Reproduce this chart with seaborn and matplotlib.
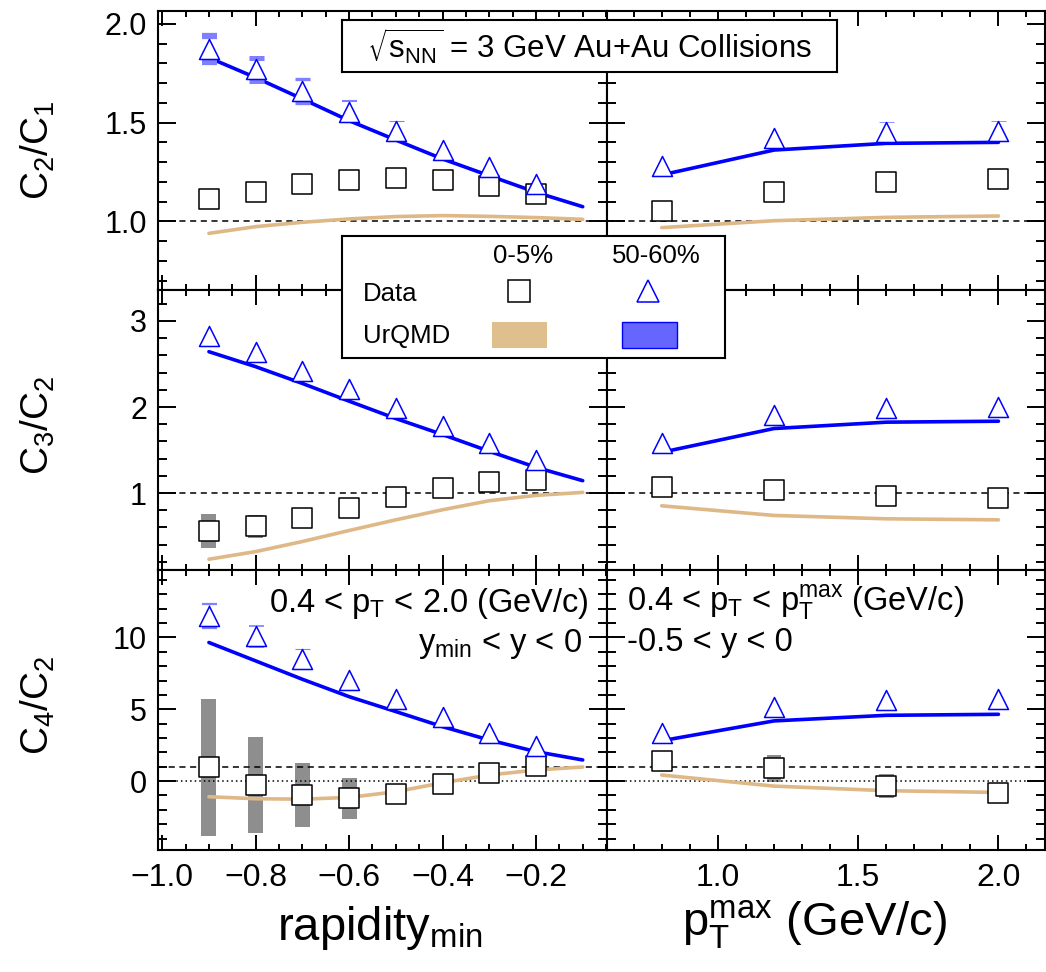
import numpy as np
import matplotlib
matplotlib.use("Agg")
import matplotlib.pyplot as plt
import seaborn as sns
from matplotlib.ticker import MultipleLocator, FormatStrFormatter

# ---- x positions ----
y_min = [-0.9, -0.8, -0.7, -0.6, -0.5, -0.4, -0.3, -0.2]
y_model = [-0.9, -0.8, -0.7, -0.6, -0.5, -0.4, -0.3, -0.2, -0.1]
pt_max = [0.8, 1.2, 1.6, 2.0]

# ---- C2/C1 ----
c21_y_cen = [1.111, 1.150, 1.188, 1.209, 1.218, 1.208, 1.179, 1.140]
c21_y_per = [1.872, 1.770, 1.660, 1.556, 1.456, 1.363, 1.275, 1.188]
c21_y_per_err = [0.065, 0.058, 0.06, 0.055, 0.05, 0.0, 0.0, 0.0]
c21_y_per_cap = [4.5, 3.6, 2.4, 1.5, 0.8, 0.0, 0.0, 0.0]
urqmd_c21_y_cen = [0.939, 0.973, 0.995, 1.012, 1.024, 1.029, 1.025, 1.019, 1.010]
urqmd_c21_y_per = [1.829, 1.728, 1.620, 1.510, 1.412, 1.316, 1.231, 1.147, 1.074]
c21_pt_cen = [1.051, 1.147, 1.198, 1.216]
c21_pt_per = [1.282, 1.421, 1.451, 1.458]
c21_pt_per_err = [0.0, 0.0, 0.05, 0.05]
c21_pt_per_cap = [0.0, 0.0, 0.6, 0.6]
urqmd_c21_pt_cen = [0.968, 1.003, 1.020, 1.027]
urqmd_c21_pt_per = [1.235, 1.361, 1.395, 1.400]

# ---- C3/C2 ----
c32_y_cen = [0.561, 0.615, 0.709, 0.825, 0.949, 1.058, 1.124, 1.152]
c32_y_cen_sys = [0.20, 0.135, 0.05, 0.03, 0.0, 0.0, 0.0, 0.0]
c32_y_per = [2.830, 2.639, 2.422, 2.208, 1.991, 1.785, 1.579, 1.385]
urqmd_c32_y_cen = [0.231, 0.320, 0.437, 0.565, 0.689, 0.806, 0.911, 0.973, 1.008]
urqmd_c32_y_per = [2.643, 2.469, 2.274, 2.068, 1.866, 1.680, 1.486, 1.299, 1.144]
c32_pt_cen = [1.066, 1.035, 0.965, 0.946]
c32_pt_per = [1.587, 1.905, 1.983, 1.995]
urqmd_c32_pt_cen = [0.852, 0.740, 0.701, 0.689]
urqmd_c32_pt_per = [1.474, 1.750, 1.824, 1.835]

# ---- C4/C2 ----
c42_y_cen = [0.95, -0.26, -0.98, -1.21, -0.88, -0.19, 0.53, 1.07]
c42_y_cen_sys = [4.77, 3.35, 2.23, 1.40, 0.6, 0.0, 0.0, 0.0]
c42_y_per = [11.49, 10.09, 8.51, 7.07, 5.70, 4.49, 3.37, 2.47]
c42_y_per_err = [0.85, 0.72, 0.68, 0.0, 0.0, 0.0, 0.0, 0.0]
c42_y_per_cap = [1.6, 1.2, 0.8, 0.0, 0.0, 0.0, 0.0, 0.0]
urqmd_c42_y_cen = [-1.09, -1.23, -1.26, -1.14, -0.74, -0.12, 0.42, 0.77, 0.98]
urqmd_c42_y_per = [9.65, 8.37, 7.09, 5.88, 4.84, 3.79, 2.86, 2.05, 1.47]
c42_pt_cen = [1.42, 0.88, -0.36, -0.84]
c42_pt_cen_sys = [0.3, 0.93, 0.85, 0.45]
c42_pt_per = [3.37, 5.16, 5.63, 5.70]
urqmd_c42_pt_cen = [0.42, -0.35, -0.67, -0.79]
urqmd_c42_pt_per = [2.81, 4.19, 4.58, 4.65]

ROW_LABELS = [r"C$_{2}$/C$_{1}$", r"C$_{3}$/C$_{2}$", r"C$_{4}$/C$_{2}$"]

BLUE = "#0000ff"
TAN = "#deb887"
CAP_BLUE = "#7f7fff"
GRAY = "#7a7a7a"

sns.set_theme(style="ticks")
plt.rcParams["font.family"] = ["Liberation Sans", "DejaVu Sans"]
plt.rcParams["mathtext.default"] = "regular"
plt.rcParams["axes.linewidth"] = 1.5
plt.rcParams["text.color"] = "black"
plt.rcParams["xtick.labelcolor"] = "black"
plt.rcParams["ytick.labelcolor"] = "black"

fig = plt.figure(figsize=(10.46, 9.72), dpi=100)

W, H = 1046.0, 972.0
col_px = [(158, 607), (607, 1045)]
row_px = [(10.7, 290), (290, 570), (570, 850)]
xlims = [(-1.009, -0.048), (0.605, 2.166)]
ylims = [(0.652, 2.067), (0.106, 3.36), (-4.8, 14.7)]
ymaj = [0.5, 1, 5]
ymin_loc = [0.1, 0.2, 1]

# panel table built from the arrays above
panels = [
    [dict(x=y_min, xm=y_model, cen=c21_y_cen, per=c21_y_per, per_err=c21_y_per_err,
          per_cap=c21_y_per_cap, m_cen=urqmd_c21_y_cen, m_per=urqmd_c21_y_per),
     dict(x=pt_max, xm=pt_max, cen=c21_pt_cen, per=c21_pt_per, per_err=c21_pt_per_err,
          per_cap=c21_pt_per_cap, m_cen=urqmd_c21_pt_cen, m_per=urqmd_c21_pt_per)],
    [dict(x=y_min, xm=y_model, cen=c32_y_cen, cen_sys=c32_y_cen_sys, per=c32_y_per,
          m_cen=urqmd_c32_y_cen, m_per=urqmd_c32_y_per),
     dict(x=pt_max, xm=pt_max, cen=c32_pt_cen, per=c32_pt_per,
          m_cen=urqmd_c32_pt_cen, m_per=urqmd_c32_pt_per)],
    [dict(x=y_min, xm=y_model, cen=c42_y_cen, cen_sys=c42_y_cen_sys, per=c42_y_per,
          per_err=c42_y_per_err, per_cap=c42_y_per_cap,
          m_cen=urqmd_c42_y_cen, m_per=urqmd_c42_y_per),
     dict(x=pt_max, xm=pt_max, cen=c42_pt_cen, cen_sys=c42_pt_cen_sys, per=c42_pt_per,
          m_cen=urqmd_c42_pt_cen, m_per=urqmd_c42_pt_per)],
]

ms = 13.7
box_w = [0.032, 0.053]

for r in range(3):
    for c in range(2):
        x0, x1 = col_px[c]
        y0, y1 = row_px[r]
        ax = fig.add_axes([x0 / W, 1 - y1 / H, (x1 - x0) / W, (y1 - y0) / H])
        p = panels[r][c]

        if "cen_sys" in p:
            sys_arr = np.array(p["cen_sys"])
            ax.bar(p["x"], 2 * sys_arr, bottom=np.array(p["cen"]) - sys_arr,
                   width=box_w[c], color=GRAY, alpha=0.85, zorder=1, linewidth=0)

        ax.axhline(1, color="black", ls=(0, (4, 3)), lw=1.1, zorder=1.5)
        if r == 2:
            ax.axhline(0, color="black", ls=(0, (1, 2)), lw=1.1, zorder=1.5)

        sns.lineplot(x=p["xm"], y=p["m_cen"], ax=ax, color=TAN, lw=2.6, zorder=2)
        sns.lineplot(x=p["xm"], y=p["m_per"], ax=ax, color=BLUE, lw=2.6, zorder=3)

        if "per_err" in p:
            for xi, yi, ei, ci in zip(p["x"], p["per"], p["per_err"], p["per_cap"]):
                if ei > 0:
                    ax.errorbar(xi, yi, yerr=ei, fmt="none", ecolor=CAP_BLUE,
                                elinewidth=1.0, capsize=5.4, capthick=ci, zorder=3.5)

        sns.scatterplot(x=p["x"], y=p["cen"], ax=ax, marker="s", s=ms ** 2,
                        facecolor="white", edgecolor="black", linewidth=1.1,
                        zorder=5, legend=False)
        sns.scatterplot(x=p["x"], y=p["per"], ax=ax, marker="^", s=(ms * 1.05) ** 2,
                        facecolor="white", edgecolor=BLUE, linewidth=1.1,
                        zorder=5, legend=False)

        ax.set_xlim(*xlims[c])
        ax.set_ylim(*ylims[r])
        ax.xaxis.set_major_locator(MultipleLocator(0.2 if c == 0 else 0.5))
        ax.xaxis.set_minor_locator(MultipleLocator(0.05 if c == 0 else 0.1))
        ax.yaxis.set_major_locator(MultipleLocator(ymaj[r]))
        ax.yaxis.set_minor_locator(MultipleLocator(ymin_loc[r]))
        if r == 0:
            ax.yaxis.set_major_formatter(FormatStrFormatter("%.1f"))
        ax.tick_params(which="both", direction="in", top=True, right=True,
                       color="black", width=1.4)
        ax.tick_params(axis="y", which="major", length=13)
        ax.tick_params(axis="y", which="minor", length=6.5)
        ax.tick_params(axis="x", which="major", length=11)
        ax.tick_params(axis="x", which="minor", length=4.5)
        ax.tick_params(axis="y", labelsize=22, pad=8)
        ax.tick_params(axis="x", labelsize=23, pad=9)
        ax.set_xlabel("")
        ax.set_ylabel("")
        for s in ax.spines.values():
            s.set_color("black")
            s.set_linewidth(1.5)
        if c == 1:
            ax.tick_params(axis="y", labelleft=False)
        if r < 2:
            ax.tick_params(axis="x", labelbottom=False)

        if r == 2 and c == 0:
            ax.text(0.96, 0.88, r"0.4 < p$_{T}$ < 2.0 (GeV/c)", transform=ax.transAxes,
                    ha="right", va="center", fontsize=23.5, zorder=6)
            ax.text(0.945, 0.735, r"y$_{min}$ < y < 0", transform=ax.transAxes,
                    ha="right", va="center", fontsize=23.5, zorder=6)
        if r == 2 and c == 1:
            ax.text(0.045, 0.885, r"0.4 < p$_{T}$ < p$_{T}^{max}$ (GeV/c)",
                    transform=ax.transAxes, ha="left", va="center", fontsize=23.5, zorder=6)
            ax.text(0.045, 0.74, r"-0.5 < y < 0", transform=ax.transAxes,
                    ha="left", va="center", fontsize=23.5, zorder=6)

# y axis titles
row_centres = [150, 425, 705]
for lab, yc in zip(ROW_LABELS, row_centres):
    fig.text(38 / W, 1 - yc / H, lab, rotation=90, ha="center", va="center", fontsize=28)

# x axis titles
fig.text(380 / W, 1 - 928 / H, r"rapidity$_{min}$", ha="center", va="center", fontsize=34)
fig.text(815 / W, 1 - 925 / H, r"p$_{T}^{max}$ (GeV/c)", ha="center", va="center", fontsize=34)

# title box
tax = fig.add_axes([341.7 / W, 1 - 71.7 / H, 495 / W, 51.7 / H], zorder=10)
tax.set_xticks([])
tax.set_yticks([])
for s in tax.spines.values():
    s.set_linewidth(1.5)
    s.set_color("black")
tax.text(0.5, 0.48, r"$\sqrt{s_{NN}}$ = 3 GeV Au+Au Collisions", ha="center", va="center",
         fontsize=22.5, transform=tax.transAxes)

# legend box
lax = fig.add_axes([341.7 / W, 1 - 357.7 / H, 383.3 / W, 122 / H], zorder=10)
lax.set_xlim(0, 1)
lax.set_ylim(0, 1)
lax.set_xticks([])
lax.set_yticks([])
for s in lax.spines.values():
    s.set_linewidth(1.5)
    s.set_color("black")
lax.text(0.473, 0.83, "0-5%", ha="center", va="center", fontsize=18.5)
lax.text(0.82, 0.83, "50-60%", ha="center", va="center", fontsize=18.5)
lax.text(0.056, 0.52, "Data", ha="left", va="center", fontsize=18.5)
lax.text(0.056, 0.175, "UrQMD", ha="left", va="center", fontsize=18.5)
lax.plot([0.4626], [0.55], marker="s", ms=16, mfc="white", mec="black", mew=1.1)
lax.plot([0.80], [0.55], marker="^", ms=16, mfc="white", mec=BLUE, mew=1.1)
lax.add_patch(plt.Rectangle((0.392, 0.08), 0.144, 0.213, facecolor="#e0bf8f", edgecolor="none"))
lax.add_patch(plt.Rectangle((0.731, 0.08), 0.144, 0.213, facecolor="#6666ff", edgecolor=BLUE, lw=1))

fig.savefig("out.png", dpi=100)
